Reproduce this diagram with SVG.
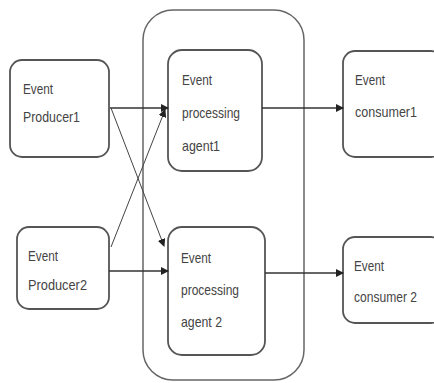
<svg xmlns="http://www.w3.org/2000/svg" width="434" height="383" viewBox="0 0 434 383">
<style>
.box{fill:#fff;stroke:#555;stroke-width:1.8}
.cont{fill:none;stroke:#666;stroke-width:1.5}
.t{font-family:"Liberation Sans",Arial,sans-serif;font-size:15px;fill:#444}
.c{stroke:#333;stroke-width:1.5;fill:none;marker-end:url(#ah)}
.c2{stroke:#444;stroke-width:1;fill:none;marker-end:url(#ah)}
</style>
<defs>
<marker id="ah" markerWidth="8" markerHeight="8" refX="7" refY="4" orient="auto" markerUnits="userSpaceOnUse">
<path d="M0,0 L8,4 L0,8 z" fill="#222"/>
</marker>
</defs>
<rect width="434" height="383" fill="#fff"/>
<g id="container"><rect class="cont" x="143" y="10" width="161" height="370" rx="30"/></g>
<g id="producer1"><rect class="box" x="10" y="60" width="99" height="97" rx="12"/>
<text class="t" x="23" y="94" textLength="30" lengthAdjust="spacingAndGlyphs">Event</text><text class="t" x="23" y="122" textLength="57" lengthAdjust="spacingAndGlyphs">Producer1</text></g>
<g id="producer2"><rect class="box" x="17" y="227" width="92" height="82" rx="12"/>
<text class="t" x="28" y="261" textLength="30" lengthAdjust="spacingAndGlyphs">Event</text><text class="t" x="28" y="290" textLength="59" lengthAdjust="spacingAndGlyphs">Producer2</text></g>
<g id="agent1"><rect class="box" x="168" y="50" width="94" height="121" rx="14"/>
<text class="t" x="182" y="85" textLength="30" lengthAdjust="spacingAndGlyphs">Event</text><text class="t" x="182" y="118" textLength="58" lengthAdjust="spacingAndGlyphs">processing</text><text class="t" x="182" y="151" textLength="38" lengthAdjust="spacingAndGlyphs">agent1</text></g>
<g id="agent2"><rect class="box" x="168" y="227" width="97" height="128" rx="14"/>
<text class="t" x="181" y="263" textLength="30" lengthAdjust="spacingAndGlyphs">Event</text><text class="t" x="181" y="295" textLength="58" lengthAdjust="spacingAndGlyphs">processing</text><text class="t" x="181" y="327" textLength="41" lengthAdjust="spacingAndGlyphs">agent 2</text></g>
<g id="consumer1"><rect class="box" x="343" y="51" width="100" height="106" rx="12"/>
<text class="t" x="355" y="85" textLength="30" lengthAdjust="spacingAndGlyphs">Event</text><text class="t" x="355" y="117" textLength="62" lengthAdjust="spacingAndGlyphs">consumer1</text></g>
<g id="consumer2"><rect class="box" x="343" y="237" width="100" height="86" rx="12"/>
<text class="t" x="354" y="271" textLength="30" lengthAdjust="spacingAndGlyphs">Event</text><text class="t" x="354" y="302" textLength="63" lengthAdjust="spacingAndGlyphs">consumer 2</text></g>
<g id="connectors">
<line class="c" x1="110" y1="108" x2="168" y2="108"/>
<line class="c2" x1="111" y1="108" x2="164" y2="246"/>
<line class="c2" x1="111" y1="247" x2="165" y2="110"/>
<line class="c" x1="109" y1="271" x2="168" y2="271"/>
<line class="c" x1="262" y1="108" x2="343" y2="108"/>
<line class="c" x1="265" y1="273" x2="343" y2="273"/>
</g>
</svg>
